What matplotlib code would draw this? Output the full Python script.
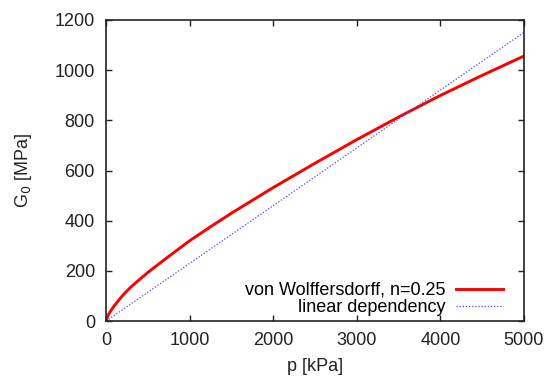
import numpy as np
import matplotlib
matplotlib.use("Agg")
import matplotlib.pyplot as plt

plt.rcParams['font.family'] = ['Liberation Sans', 'DejaVu Sans']

# mean pressure p [kPa] and small-strain shear modulus G0 [MPa]
p_kpa = [0, 25, 50, 100, 200, 300, 500, 750, 1000, 1250, 1500, 2000, 2500, 3000, 3500, 4000, 4500, 5000]
g0_wolff = [0, 24, 38, 62, 103, 137, 194, 258, 320, 376, 430, 532, 629, 723, 813, 899, 979, 1056]
p_lin = [0, 5000]
g0_lin = [0, 1150]

fig = plt.figure(figsize=(5.44, 3.76), dpi=100)
ax = fig.add_axes([0.195, 0.146, 0.768, 0.801])

ax.plot(p_kpa, g0_wolff, color='#ff0000', lw=2.1, label='von Wolffersdorff, n=0.25')
ax.plot(p_lin, g0_lin, color='#4a4aff', lw=0.9, linestyle=(0, (1, 1.5)),
        label='linear dependency')

ax.set_xlim(0, 5000)
ax.set_ylim(0, 1200)
ax.set_xticks(np.arange(0, 5001, 1000))
ax.set_yticks(np.arange(0, 1201, 200))
ax.tick_params(direction='in', top=True, right=True, length=4, width=1,
               labelsize=13, pad=8, colors='#222222')
for s in ax.spines.values():
    s.set_linewidth(1.2)
    s.set_color('#222222')

ax.set_xlabel('p [kPa]', fontsize=13, color='#222222', labelpad=6)
ax.set_ylabel('G$_0$ [MPa]', fontsize=13, color='#222222', labelpad=15)

ax.legend(loc='lower right', frameon=False, markerfirst=False, fontsize=13,
          handlelength=2.6, handletextpad=0.6, labelspacing=0.0,
          borderpad=0, borderaxespad=0, bbox_to_anchor=(0.95, 0.017))

fig.savefig('out.png', dpi=100)
